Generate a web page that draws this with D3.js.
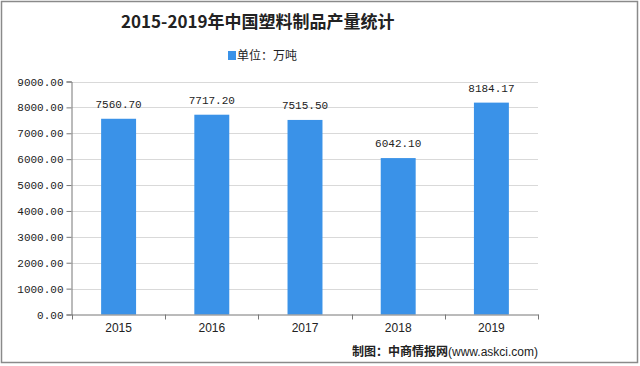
<!DOCTYPE html>
<html><head><meta charset="utf-8">
<script src="https://cdn.jsdelivr.net/npm/d3@7"></script>
<style>body{margin:0;background:#fff}svg{display:block}</style>
</head><body>
<svg id="c" width="640" height="366"></svg>
<script>
const categories = ["2015","2016","2017","2018","2019"];
const values = [7560.70, 7717.20, 7515.50, 6042.10, 8184.17];
const yTicks = [0,1000,2000,3000,4000,5000,6000,7000,8000,9000];
const title = "2015-2019年中国塑料制品产量统计";
const legendLabel = "单位：万吨";
const sourceBold = "制图：中商情报网";
const sourceRest = "(www.askci.com)";

const svg = d3.select("#c");
svg.append("rect").attr("x",1.5).attr("y",1.5).attr("width",636).attr("height",361)
  .attr("fill","#fff").attr("stroke","#8a8a8a").attr("stroke-width",1.5);

const x = d3.scaleBand().domain(categories).range([72,538]).padding(0);
const y = d3.scaleLinear().domain([0,9000]).range([314.5,81.5]);

// gridlines
svg.append("g").selectAll("line").data(yTicks.slice(1)).join("line")
  .attr("x1",72).attr("x2",538).attr("y1",d=>Math.round(y(d))+0.5).attr("y2",d=>Math.round(y(d))+0.5)
  .attr("stroke","#d9d9d9").attr("stroke-width",1);

// bars
const bw = x.bandwidth()*0.375;
svg.append("g").selectAll("rect").data(values).join("rect")
  .attr("x",(d,i)=>x(categories[i])+x.bandwidth()/2-bw/2)
  .attr("y",d=>y(d)).attr("width",bw).attr("height",d=>y(0)-y(d))
  .attr("fill","#3a92e8");

// value labels
svg.append("g").selectAll("text").data(values).join("text")
  .attr("x",(d,i)=>x(categories[i])+x.bandwidth()/2)
  .attr("y",d=>y(d)-11)
  .attr("text-anchor","middle")
  .attr("font-family","'Liberation Mono', 'DejaVu Sans Mono', monospace")
  .attr("font-size",11).attr("fill","#222")
  .text(d=>d.toFixed(2));

// y axis
const yAxis = d3.axisLeft(y).tickValues(yTicks).tickSize(5).tickFormat(d=>d.toFixed(2));
const gy = svg.append("g").attr("transform","translate(71.5,0)").call(yAxis);
gy.select(".domain").attr("stroke","#777");
gy.selectAll(".tick line").attr("stroke","#777");
gy.selectAll(".tick text").attr("font-family","'Liberation Mono', 'DejaVu Sans Mono', monospace")
  .attr("font-size",11).attr("fill","#222").attr("x",-8);

// x axis
const gx = svg.append("g").attr("transform","translate(0,"+(y(0))+")")
  .call(d3.axisBottom(x).tickSize(0).tickSizeOuter(0));
gx.select(".domain").attr("stroke","#777");
gx.selectAll(".tick text").attr("font-family","'Liberation Sans', Arial, sans-serif")
  .attr("font-size",12).attr("fill","#222").attr("dy","1.2em");
// band boundary ticks
svg.append("g").selectAll("line").data(categories.concat(["end"])).join("line")
  .attr("x1",(d,i)=>Math.round(i<categories.length?x(d):x.range()[1])+0.5)
  .attr("x2",(d,i)=>Math.round(i<categories.length?x(d):x.range()[1])+0.5)
  .attr("y1",y(0)).attr("y2",y(0)+5).attr("stroke","#777");

// title
svg.append("text").attr("x",121).attr("y",28)
  .attr("font-family","'Noto Sans CJK SC', sans-serif").attr("font-size",17).attr("font-weight","bold")
  .attr("fill","#222").text(title);

// legend
svg.append("rect").attr("x",228).attr("y",51).attr("width",8).attr("height",9).attr("fill","#3a92e8");
svg.append("text").attr("x",237).attr("y",60)
  .attr("font-family","'Noto Sans CJK SC', sans-serif").attr("font-size",12).attr("fill","#222")
  .text(legendLabel);

// source
const src = svg.append("text").attr("x",538).attr("y",356).attr("text-anchor","end")
  .attr("font-family","'Noto Sans CJK SC', sans-serif").attr("font-size",12).attr("fill","#222");
src.append("tspan").attr("font-weight","bold").text(sourceBold);
src.append("tspan").attr("font-family","'Liberation Sans', Arial, sans-serif").text(sourceRest);
</script>
</body></html>
